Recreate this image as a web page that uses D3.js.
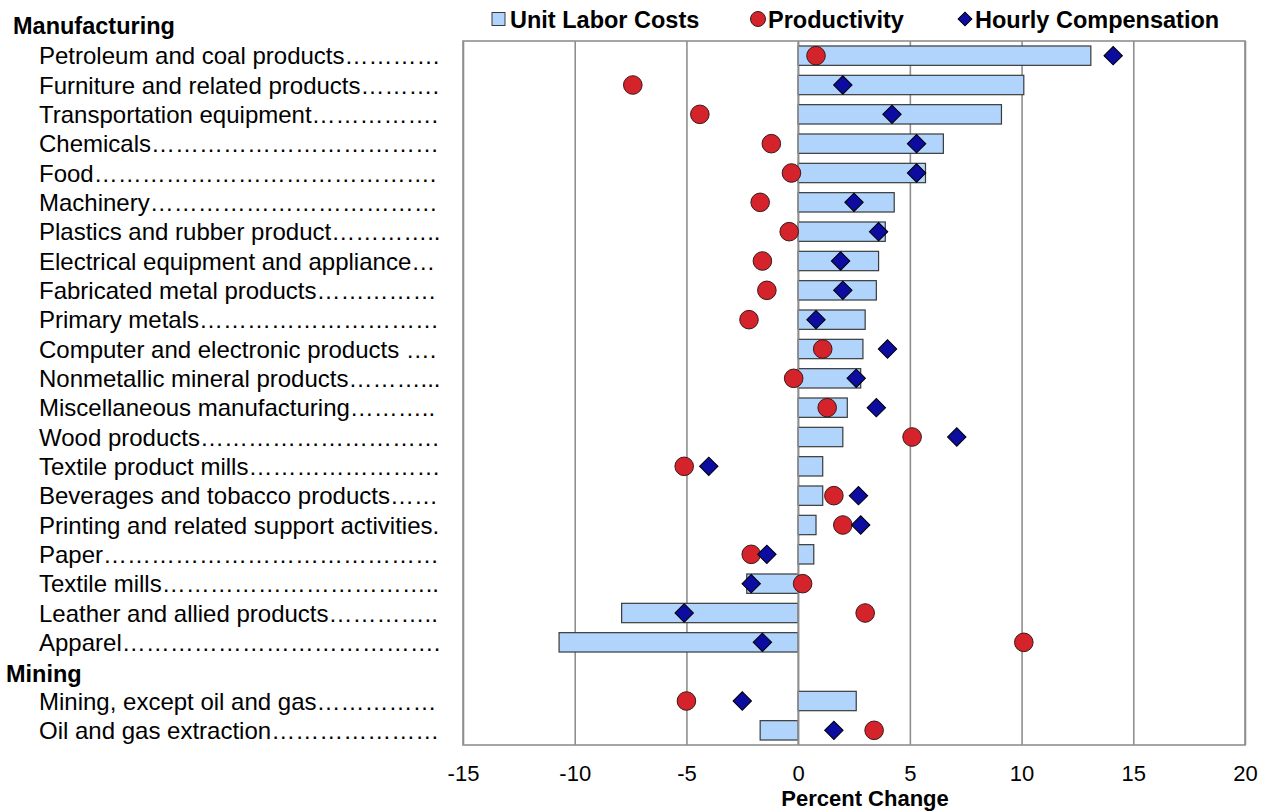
<!DOCTYPE html>
<html><head><meta charset="utf-8">
<script src="https://cdn.jsdelivr.net/npm/d3@7"></script>
<style>
body{margin:0;background:#fff}
svg{display:block;font-family:"Liberation Sans",Arial,Helvetica,sans-serif}
</style>
</head><body>
<svg id="chart" width="1268" height="811"></svg>
<script>
// ---- data ----
const categories = [
  "Petroleum and coal products", "Furniture and related products", "Transportation equipment",
  "Chemicals", "Food", "Machinery", "Plastics and rubber product", "Electrical equipment and appliance",
  "Fabricated metal products", "Primary metals", "Computer and electronic products ",
  "Nonmetallic mineral products", "Miscellaneous manufacturing", "Wood products",
  "Textile product mills", "Beverages and tobacco products", "Printing and related support activities",
  "Paper", "Textile mills", "Leather and allied products", "Apparel",
  "", // Mining header row
  "Mining, except oil and gas", "Oil and gas extraction"
];
const groupHeaders = ["Manufacturing", "Mining"];
const unitLaborCosts = [13.1, 10.1, 9.1, 6.5, 5.7, 4.3, 3.9, 3.6, 3.5, 3.0, 2.9, 2.8, 2.2, 2.0, 1.1, 1.1, 0.8, 0.7, -2.3, -7.9, -10.7, null, 2.6, -1.7];
const productivity   = [0.8, -7.4, -4.4, -1.2, -0.3, -1.7, -0.4, -1.6, -1.4, -2.2, 1.1, -0.2, 1.3, 5.1, -5.1, 1.6, 2.0, -2.1, 0.2, 3.0, 10.1, null, -5.0, 3.4];
const hourlyComp     = [14.1, 2.0, 4.2, 5.3, 5.3, 2.5, 3.6, 1.9, 2.0, 0.8, 4.0, 2.6, 3.5, 7.1, -4.0, 2.7, 2.8, -1.4, -2.1, -5.1, -1.6, null, -2.5, 1.6];
const xTicks = [-15, -10, -5, 0, 5, 10, 15, 20];
const xTickLabels = ["-15", "-10", "-5", "0", "5", "10", "15", "20"];
const legendLabels = ["Unit Labor Costs", "Productivity", "Hourly Compensation"];
const xTitle = "Percent Change";

// ---- layout ----
const svg = d3.select("#chart");
const L = 463, R = 1245, T = 41, B = 745;
const x = d3.scaleLinear().domain([-15, 20]).range([L, R]);
const y = d3.scaleBand().domain(d3.range(categories.length)).range([T, B]).paddingInner(0.34).paddingOuter(0.17);
const C = {bar:"#b0d4fc", barStroke:"#3a3a3a", dot:"#d4232b", dia:"#0c0ca0", grid:"#8f8f8f"};

// gridlines + tick labels via axis
const axis = d3.axisBottom(x).tickValues(xTicks).tickFormat((d, i) => xTickLabels[i])
  .tickSizeInner(-(B - T)).tickSizeOuter(0).tickPadding(20);
const gAx = svg.append("g").attr("transform", `translate(0,${B})`).call(axis);
gAx.select(".domain").remove();
gAx.selectAll(".tick line").attr("stroke", C.grid).attr("stroke-width", 1.6);
gAx.selectAll(".tick text").attr("font-size", 22).attr("fill", "#000").attr("font-family", '"Liberation Sans",Arial,sans-serif');

// border
svg.append("rect").attr("x", L).attr("y", T).attr("width", R - L).attr("height", B - T)
  .attr("fill", "none").attr("stroke", C.grid).attr("stroke-width", 1.6);

const idx = d3.range(categories.length).filter(i => unitLaborCosts[i] !== null);

// bars
svg.append("g").selectAll("rect").data(idx).join("rect")
  .attr("x", i => x(Math.min(0, unitLaborCosts[i])))
  .attr("width", i => Math.abs(x(unitLaborCosts[i]) - x(0)))
  .attr("y", i => y(i)).attr("height", y.bandwidth())
  .attr("fill", C.bar).attr("stroke", C.barStroke).attr("stroke-width", 1.2);

// zero line on top of bar edges
svg.append("line").attr("x1", x(0)).attr("x2", x(0)).attr("y1", T).attr("y2", B)
  .attr("stroke", C.grid).attr("stroke-width", 1.6);

// productivity circles
svg.append("g").selectAll("circle").data(idx).join("circle")
  .attr("cx", i => x(productivity[i])).attr("cy", i => y(i) + y.bandwidth() / 2).attr("r", 9.3)
  .attr("fill", C.dot).attr("stroke", "#3a1a1a").attr("stroke-width", 1);

// hourly comp diamonds
const dsym = d3.symbol().type(d3.symbolSquare).size(170);
svg.append("g").selectAll("path").data(idx).join("path")
  .attr("d", dsym)
  .attr("transform", i => `translate(${x(hourlyComp[i])},${y(i) + y.bandwidth() / 2}) rotate(45)`)
  .attr("fill", C.dia).attr("stroke", "#000").attr("stroke-width", 1);

// category labels with dot leaders
const labX = 39, labEnd = 441;
const gl = svg.append("g").attr("font-size", 24).attr("fill", "#000");
categories.forEach((name, i) => {
  if (!name) return;
  const t = gl.append("text").attr("x", labX).attr("y", y(i) + y.bandwidth() / 2 + 8.5).text(name);
  const w = () => t.node().getComputedTextLength();
  let s = name;
  while (true) { t.text(s + "\u2026"); if (w() > labEnd - labX) break; s += "\u2026"; }
  while (true) { t.text(s + "."); if (w() > labEnd - labX) break; s += "."; }
  t.text(s);
});
// group headers
svg.append("text").attr("x", 13).attr("y", 34).attr("font-size", 23.5).attr("font-weight", "bold").text(groupHeaders[0]);
const mi = categories.indexOf("");
svg.append("text").attr("x", 6).attr("y", y(mi) + y.bandwidth() / 2 + 10).attr("font-size", 23.5).attr("font-weight", "bold").text(groupHeaders[1]);

// legend
const lg = svg.append("g").attr("font-size", 23.5).attr("font-weight", "bold");
lg.append("rect").attr("x", 492).attr("y", 12.5).attr("width", 13).attr("height", 13).attr("fill", C.bar).attr("stroke", "#3a3a3a").attr("stroke-width", 1);
lg.append("text").attr("x", 510).attr("y", 27.5).text(legendLabels[0]);
lg.append("circle").attr("cx", 758).attr("cy", 19).attr("r", 7.5).attr("fill", C.dot).attr("stroke", "#3a1a1a").attr("stroke-width", 1);
lg.append("text").attr("x", 768).attr("y", 27.5).text(legendLabels[1]);
lg.append("path").attr("d", d3.symbol().type(d3.symbolSquare).size(95)).attr("transform", "translate(965,19) rotate(45)").attr("fill", C.dia).attr("stroke", "#000");
lg.append("text").attr("x", 975).attr("y", 27.5).text(legendLabels[2]);

// x title
svg.append("text").attr("x", 865).attr("y", 806).attr("text-anchor", "middle").attr("font-size", 22).attr("font-weight", "bold").text(xTitle);
</script>
</body></html>
